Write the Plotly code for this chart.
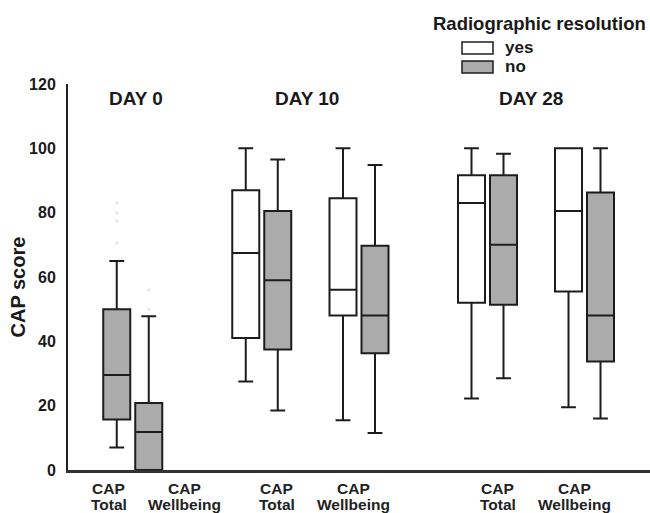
import plotly.graph_objects as go

# ---------------- data ----------------
days = ["DAY 0", "DAY 10", "DAY 28"]
measure_line1 = ["CAP", "CAP"]
measure_line2 = ["Total", "Wellbeing"]
groups = ["yes", "no"]
legend_title = "Radiographic resolution"
y_ticks = [0, 20, 40, 60, 80, 100, 120]

# "yes" boxes: DAY10 Total, DAY10 Wellbeing, DAY28 Total, DAY28 Wellbeing
yes_day = ["DAY 10", "DAY 10", "DAY 28", "DAY 28"]
yes_measure = ["CAP Total", "CAP Wellbeing", "CAP Total", "CAP Wellbeing"]
yes_low = [27.5, 15.5, 22.2, 19.5]
yes_q1 = [41.0, 48.0, 52.0, 55.5]
yes_med = [67.5, 56.0, 83.0, 80.5]
yes_q3 = [87.0, 84.5, 91.6, 100.0]
yes_high = [100.0, 100.0, 100.0, 100.0]

# "no" boxes: DAY0 Total, DAY0 Wellbeing, DAY10 T, DAY10 W, DAY28 T, DAY28 W
no_day = ["DAY 0", "DAY 0", "DAY 10", "DAY 10", "DAY 28", "DAY 28"]
no_measure = ["CAP Total", "CAP Wellbeing", "CAP Total", "CAP Wellbeing", "CAP Total", "CAP Wellbeing"]
no_low = [7.0, 0.0, 18.5, 11.5, 28.5, 16.0]
no_q1 = [15.7, 0.0, 37.5, 36.3, 51.4, 33.7]
no_med = [29.5, 11.8, 59.0, 48.0, 70.0, 48.0]
no_q3 = [50.0, 20.8, 80.5, 69.7, 91.6, 86.3]
no_high = [65.0, 47.8, 96.5, 94.8, 98.3, 100.0]

# faint outliers
out_day = ["DAY 0"] * 6
out_measure = ["CAP Total"] * 4 + ["CAP Wellbeing"] * 2
out_val = [83.0, 80.0, 77.5, 70.5, 56.0, 50.0]

# ---------------- layout helpers ----------------
W, H = 650, 513
ML, MR, MT, MB = 68, 0, 84, 43
PW = W - ML - MR
PH = H - MT - MB

pair_center = {
    ("DAY 0", "CAP Total"): 64.75, ("DAY 0", "CAP Wellbeing"): 64.75,
    ("DAY 10", "CAP Total"): 193.75, ("DAY 10", "CAP Wellbeing"): 291.0,
    ("DAY 28", "CAP Total"): 419.5, ("DAY 28", "CAP Wellbeing"): 516.5,
}
OFF = 16.0
BOXW = 27.0


def xpos(day, meas, grp):
    c = pair_center[(day, meas)]
    if day == "DAY 0":
        return c - OFF if meas == "CAP Total" else c + OFF
    return c - OFF if grp == "yes" else c + OFF


LINE = "#1c1c1c"
GRAY = "#ababab"
FONT = "Liberation Sans, Arial, sans-serif"

fig = go.Figure()

fig.add_trace(go.Box(
    x=[xpos(d, m, "yes") for d, m in zip(yes_day, yes_measure)],
    q1=yes_q1, median=yes_med, q3=yes_q3,
    lowerfence=yes_low, upperfence=yes_high,
    width=BOXW, whiskerwidth=0.55,
    fillcolor="white", line=dict(color=LINE, width=2),
    name="yes", showlegend=False, hoverinfo="skip",
))
fig.add_trace(go.Box(
    x=[xpos(d, m, "no") for d, m in zip(no_day, no_measure)],
    q1=no_q1, median=no_med, q3=no_q3,
    lowerfence=no_low, upperfence=no_high,
    width=BOXW, whiskerwidth=0.55,
    fillcolor=GRAY, line=dict(color=LINE, width=2),
    name="no", showlegend=False, hoverinfo="skip",
))
fig.add_trace(go.Scatter(
    x=[xpos(d, m, "no") for d, m in zip(out_day, out_measure)],
    y=out_val, mode="markers",
    marker=dict(color="#e4e4e4", size=3),
    showlegend=False, hoverinfo="skip",
))

annotations = []
# day titles
day_title_x = {"DAY 0": 68, "DAY 10": 239, "DAY 28": 463}
for d in days:
    annotations.append(dict(
        x=day_title_x[d], y=115.5, xref="x", yref="y", text="<b>%s</b>" % d,
        showarrow=False, font=dict(family=FONT, size=19, color="#1a1a1a"),
        xanchor="center", yanchor="middle",
    ))

# category labels
label_x = {
    ("DAY 0", "CAP Total"): 40.5, ("DAY 0", "CAP Wellbeing"): 116.5,
    ("DAY 10", "CAP Total"): 208.5, ("DAY 10", "CAP Wellbeing"): 285.0,
    ("DAY 28", "CAP Total"): 429.5, ("DAY 28", "CAP Wellbeing"): 506.0,
}
meas_keys = ["CAP Total", "CAP Wellbeing"]
for d in days:
    for mi, mk in enumerate(meas_keys):
        lx = label_x[(d, mk)]
        for line_txt, ypix in ((measure_line1[mi], 488), (measure_line2[mi], 504)):
            annotations.append(dict(
                x=lx, y=(H - MB - ypix) / PH, xref="x", yref="paper",
                text="<b>%s</b>" % line_txt, showarrow=False,
                font=dict(family=FONT, size=15.5, color="#222"),
                xanchor="center", yanchor="middle",
            ))

# y title
annotations.append(dict(
    x=(17 - ML) / PW, y=(H - MB - 287.5) / PH, xref="paper", yref="paper",
    text="<b>CAP score</b>", textangle=-90, showarrow=False,
    font=dict(family=FONT, size=20, color="#1a1a1a"),
    xanchor="center", yanchor="middle",
))

# legend
annotations.append(dict(
    x=(648 - ML) / PW, y=(H - MB - 23) / PH, xref="paper", yref="paper",
    text="<b>%s</b>" % legend_title, showarrow=False,
    font=dict(family=FONT, size=18.5, color="#1a1a1a"),
    xanchor="right", yanchor="middle",
))
shapes = []
for g, fill, ytop in ((groups[0], "white", 42), (groups[1], GRAY, 61)):
    shapes.append(dict(
        type="rect", xref="paper", yref="paper",
        x0=(462 - ML) / PW, x1=(493 - ML) / PW,
        y0=(H - MB - (ytop + 12)) / PH, y1=(H - MB - ytop) / PH,
        fillcolor=fill, line=dict(color=LINE, width=1.5),
    ))
    annotations.append(dict(
        x=(503 - ML) / PW, y=(H - MB - (ytop + 5)) / PH, xref="paper", yref="paper",
        text="<b>%s</b>" % g, showarrow=False,
        font=dict(family=FONT, size=17, color="#1a1a1a"),
        xanchor="left", yanchor="middle",
    ))

fig.update_layout(
    width=W, height=H,
    margin=dict(l=ML, r=MR, t=MT, b=MB, pad=0),
    plot_bgcolor="white", paper_bgcolor="white",
    boxmode="overlay",
    annotations=annotations, shapes=shapes,
    xaxis=dict(range=[0, PW], showticklabels=False, ticks="", showgrid=False,
               zeroline=False, showline=True, linecolor="#333", linewidth=2.5),
    yaxis=dict(range=[0, 120], tickvals=y_ticks, ticktext=[str(v) for v in y_ticks],
               ticks="", showgrid=False, zeroline=False, showline=True,
               linecolor="#222", linewidth=2, ticklabelstandoff=7,
               tickfont=dict(family=FONT, size=16, color="#1a1a1a", weight="bold")),
)

fig.write_html(
    "out.html",
    config={"displayModeBar": False, "staticPlot": True},
    post_script="document.body.style.margin='0';document.body.style.overflow='hidden';",
)
